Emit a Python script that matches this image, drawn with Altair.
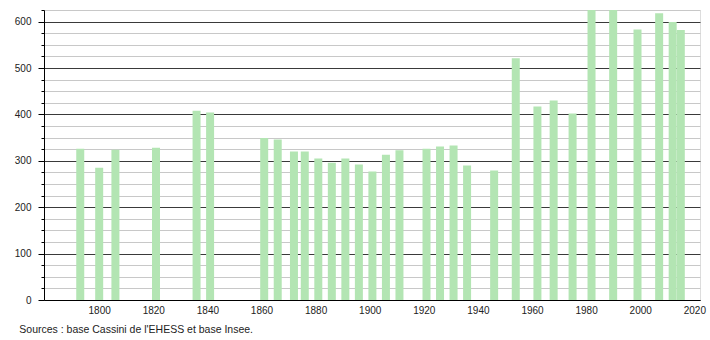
import altair as alt
import pandas as pd

years = [1793, 1800, 1806, 1821, 1836, 1841, 1861, 1866, 1872, 1876, 1881, 1886,
         1891, 1896, 1901, 1906, 1911, 1921, 1926, 1931, 1936, 1946, 1954, 1962,
         1968, 1975, 1982, 1990, 1999, 2007, 2012, 2015]
population = [326, 285, 324, 328, 408, 404, 349, 346, 320, 320, 305, 296,
              305, 292, 277, 313, 323, 326, 331, 333, 290, 279, 521, 417,
              430, 402, 640, 638, 583, 618, 599, 582]
x_ticks = [1800, 1820, 1840, 1860, 1880, 1900, 1920, 1940, 1960, 1980, 2000, 2020]
y_ticks = list(range(0, 626, 25))
source_text = "Sources : base Cassini de l'EHESS et base Insee."

df = pd.DataFrame({"year": years, "pop": population})

major = "datum.value % 100 === 0"

chart = alt.Chart(df).mark_bar(color="#b3e5b3", size=8, clip=True).encode(
    x=alt.X("year:Q",
            scale=alt.Scale(domain=[1779.6, 2022.1], nice=False, zero=False, padding=0),
            axis=alt.Axis(values=x_ticks, title=None, grid=False, ticks=False,
                          labelPadding=5, format="d", labelFontSize=10,
                          labelColor="#222", labelFont="Liberation Sans",
                          domainColor="#000", labelFlush=False)),
    y=alt.Y("pop:Q",
            scale=alt.Scale(domain=[0, 625], nice=False),
            axis=alt.Axis(values=y_ticks, title=None, grid=True,
                          gridColor={"condition": {"test": major, "value": "#3a3a3a"}, "value": "#c8c8c8"},
                          tickColor="#000",
                          tickSize={"condition": {"test": major, "value": 6}, "value": 3},
                          labelExpr="datum.value % 100 === 0 ? datum.label : ''",
                          labelPadding=7, labelFontSize=10, labelColor="#222",
                          labelFont="Liberation Sans", domainColor="#000")),
).properties(
    width=656, height=290,
    autosize=alt.AutoSizeParams(type="none"),
    padding={"left": 44, "top": 10, "right": 10, "bottom": 40},
    title=alt.TitleParams(source_text, orient="bottom", anchor="start", dx=5,
                          offset=10, fontSize=10.5, font="Liberation Sans",
                          fontWeight="normal", color="#222"),
).configure_view(stroke=None).configure(background="white")

chart.save("out.html", embed_options={"renderer": "svg", "actions": False})
